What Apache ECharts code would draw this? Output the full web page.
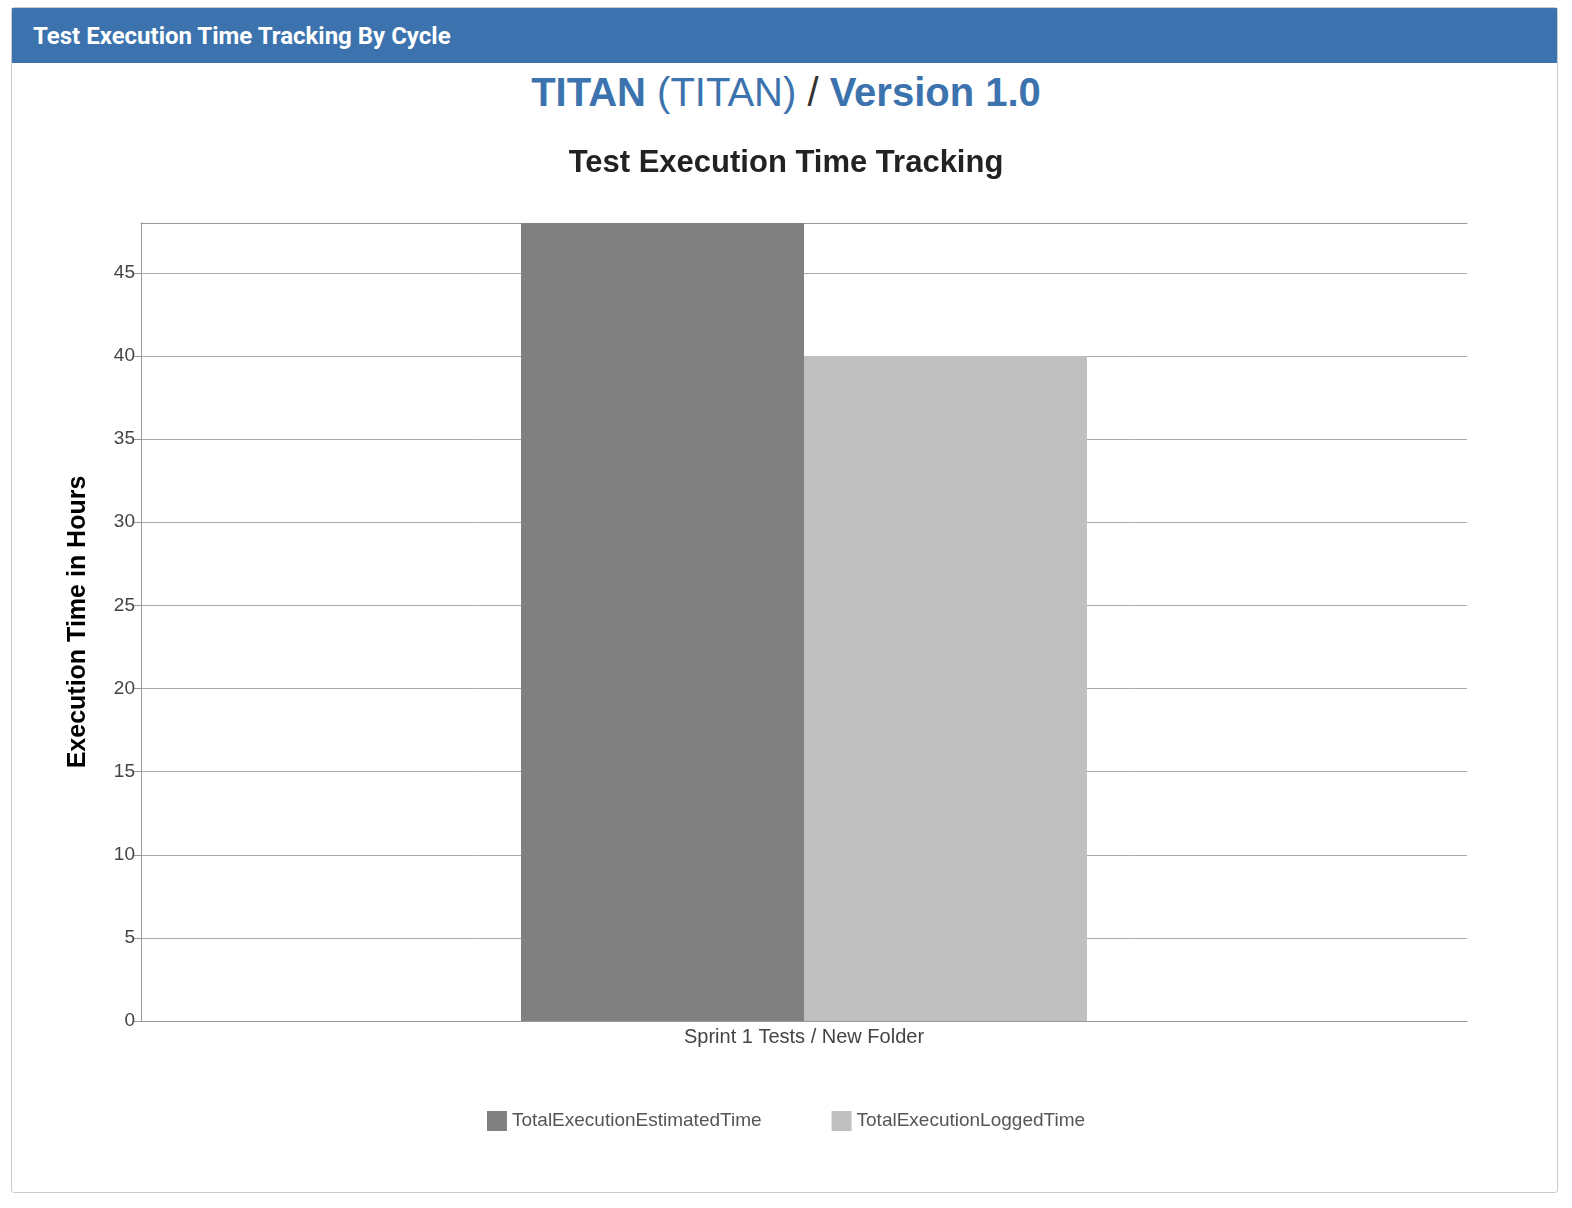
<!DOCTYPE html>
<html>
<head>
<meta charset="utf-8">
<script src="https://cdn.jsdelivr.net/npm/echarts@6/dist/echarts.min.js"></script>
<style>
body{margin:0;width:1572px;height:1208px;position:relative;font-family:"Liberation Sans",Arial,sans-serif;background:#fff;}
.panel{position:absolute;left:11px;top:7px;width:1545px;height:1184px;border:1px solid #ccc;border-radius:3px;}
.head{height:55px;background:#3c73ae;color:#fff;font-family:Roboto,sans-serif;font-weight:bold;font-size:24px;line-height:56px;padding-left:21px;}
.sub{position:absolute;top:70px;left:0;width:1572px;text-align:center;font-size:40px;color:#333;}
.sub b{color:#3c73ae}.sub span{color:#3c73ae}
#main{position:absolute;left:0;top:0;width:1572px;height:1208px;}
</style>
</head>
<body>
<div class="panel"><div class="head">Test Execution Time Tracking By Cycle</div></div>
<div class="sub"><b>TITAN</b> <span>(TITAN)</span> / <b>Version 1.0</b></div>
<div id="main"></div>
<script>
var categories = ['Sprint 1 Tests / New Folder'];
var estimated = [48];
var logged = [40];
var chart = echarts.init(document.getElementById('main'));
chart.setOption({
	animation: false,
	title: {
		text: 'Test Execution Time Tracking', left: 'center', top: 143,
		textStyle: {fontSize: 31, fontWeight: 'bold', color: '#222', fontFamily: 'Liberation Sans'}
	},
	grid: {left: 141, right: 105, top: 223, bottom: 187},
	legend: {
		bottom: 72, itemWidth: 20, itemHeight: 20, itemGap: 70, icon: 'rect',
		textStyle: {fontSize: 19, color: '#555', fontFamily: 'Liberation Sans'},
		data: ['TotalExecutionEstimatedTime', 'TotalExecutionLoggedTime']
	},
	xAxis: [{
		type: 'category', data: categories,
		axisLine: {lineStyle: {color: '#999'}}, axisTick: {show: false},
		axisLabel: {fontSize: 20, color: '#444', margin: 6, fontFamily: 'Liberation Sans'}
	}, {
		type: 'category', position: 'top', data: categories,
		axisLine: {lineStyle: {color: '#999'}}, axisTick: {show: false}, axisLabel: {show: false}
	}],
	yAxis: {
		type: 'value', min: 0, max: 48, interval: 5,
		name: 'Execution Time in Hours', nameLocation: 'middle', nameGap: 50,
		nameTextStyle: {fontSize: 25, fontWeight: 'bold', color: '#000', fontFamily: 'Liberation Sans'},
		axisLine: {show: true, lineStyle: {color: '#999'}},
		axisTick: {show: true, length: 8, lineStyle: {color: '#999'}},
		axisLabel: {fontSize: 19, color: '#444', margin: 6, fontFamily: 'Liberation Sans', showMaxLabel: false},
		splitLine: {lineStyle: {color: '#aaa'}}
	},
	series: [
		{name: 'TotalExecutionEstimatedTime', type: 'bar', data: estimated, barWidth: 283, barGap: '0%', itemStyle: {color: '#808080'}},
		{name: 'TotalExecutionLoggedTime', type: 'bar', data: logged, barWidth: 283, itemStyle: {color: '#c0c0c0'}}
	]
});
</script>
</body>
</html>
